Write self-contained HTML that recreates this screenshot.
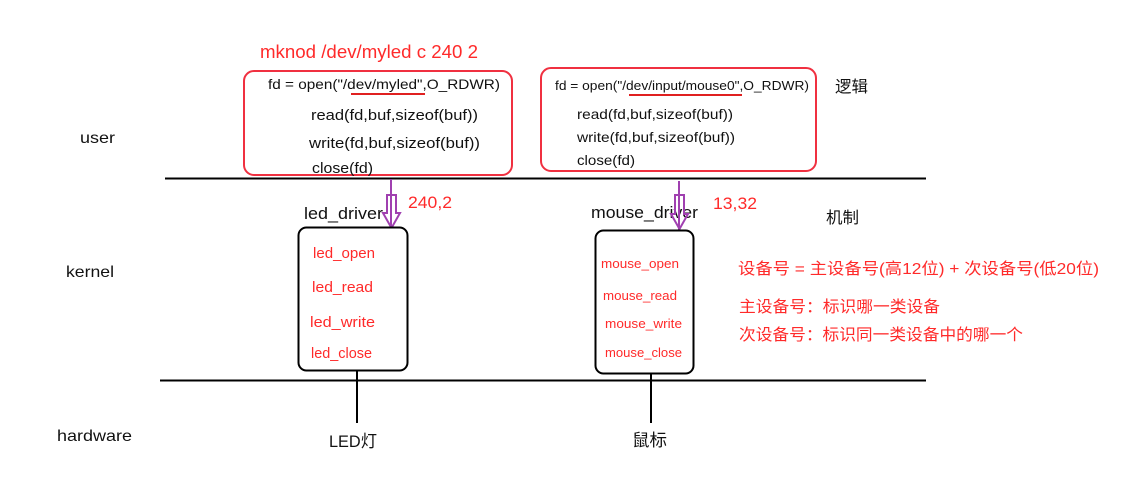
<!DOCTYPE html>
<html><head><meta charset="utf-8"><style>
html,body{margin:0;padding:0;background:#fff;}
svg{display:block;}
text{font-family:"Liberation Sans","Noto Sans CJK SC",sans-serif;}
</style></head><body>
<svg width="1143" height="487" viewBox="0 0 1143 487" xmlns="http://www.w3.org/2000/svg">
<rect width="1143" height="487" fill="#fff"/>
<line x1="165" y1="178.5" x2="926" y2="178.5" stroke="#000" stroke-width="2"/>
<line x1="160" y1="380.5" x2="926" y2="380.5" stroke="#000" stroke-width="2"/>
<text x="80" y="143" font-size="16" fill="#111" textLength="35" lengthAdjust="spacingAndGlyphs">user</text>
<text x="66" y="277" font-size="16" fill="#111" textLength="48" lengthAdjust="spacingAndGlyphs">kernel</text>
<text x="57" y="441" font-size="16" fill="#111" textLength="75" lengthAdjust="spacingAndGlyphs">hardware</text>
<text x="260" y="58" font-size="18" fill="#ff2a2a" textLength="218" lengthAdjust="spacingAndGlyphs">mknod /dev/myled c 240 2</text>
<rect x="244" y="71" width="268" height="104" rx="10" fill="none" stroke="#f03040" stroke-width="2"/>
<text x="268" y="89" font-size="14" fill="#111" textLength="232" lengthAdjust="spacingAndGlyphs">fd = open("/dev/myled",O_RDWR)</text>
<line x1="351" y1="94" x2="425" y2="94" stroke="#e02020" stroke-width="2"/>
<text x="311" y="120" font-size="14.5" fill="#111" textLength="167" lengthAdjust="spacingAndGlyphs">read(fd,buf,sizeof(buf))</text>
<text x="309" y="148" font-size="14.5" fill="#111" textLength="171" lengthAdjust="spacingAndGlyphs">write(fd,buf,sizeof(buf))</text>
<text x="312" y="173" font-size="14.5" fill="#111" textLength="61" lengthAdjust="spacingAndGlyphs">close(fd)</text>
<rect x="541" y="68" width="275" height="103" rx="10" fill="none" stroke="#f03040" stroke-width="2"/>
<text x="555" y="90" font-size="13" fill="#111" textLength="254" lengthAdjust="spacingAndGlyphs">fd = open("/dev/input/mouse0",O_RDWR)</text>
<line x1="629" y1="95" x2="742" y2="95" stroke="#e02020" stroke-width="2"/>
<text x="577" y="119" font-size="14" fill="#111" textLength="156" lengthAdjust="spacingAndGlyphs">read(fd,buf,sizeof(buf))</text>
<text x="577" y="142" font-size="14" fill="#111" textLength="158" lengthAdjust="spacingAndGlyphs">write(fd,buf,sizeof(buf))</text>
<text x="577" y="165" font-size="14" fill="#111" textLength="58" lengthAdjust="spacingAndGlyphs">close(fd)</text>
<text x="835" y="92" font-size="16" fill="#111" textLength="33" lengthAdjust="spacingAndGlyphs">逻辑</text>
<text x="826" y="223" font-size="16" fill="#111" textLength="33" lengthAdjust="spacingAndGlyphs">机制</text>
<text x="304" y="219" font-size="17" fill="#111" textLength="79" lengthAdjust="spacingAndGlyphs">led_driver</text>
<text x="591" y="218" font-size="17" fill="#111" textLength="107" lengthAdjust="spacingAndGlyphs">mouse_driver</text>
<text x="408" y="208" font-size="17" fill="#ff2a2a" textLength="44" lengthAdjust="spacingAndGlyphs">240,2</text>
<text x="713" y="209" font-size="17" fill="#ff2a2a" textLength="44" lengthAdjust="spacingAndGlyphs">13,32</text>
<g stroke="#a040b0" stroke-width="2" fill="none">
<line x1="391" y1="179" x2="391" y2="230"/>
<path d="M387,195 L396,195 L396,213 L400,213 L391.5,228 L383,213 L387,213 Z"/>
<line x1="679" y1="181" x2="679" y2="232"/>
<path d="M675,195 L684,195 L684,214 L688,214 L679.5,229 L671,214 L675,214 Z"/>
</g>
<rect x="298.5" y="227.5" width="109" height="143" rx="8" fill="#fff" stroke="#000" stroke-width="2"/>
<text x="313" y="258" font-size="15" fill="#ff2a2a" textLength="62" lengthAdjust="spacingAndGlyphs">led_open</text>
<text x="312" y="292" font-size="15" fill="#ff2a2a" textLength="61" lengthAdjust="spacingAndGlyphs">led_read</text>
<text x="310" y="327" font-size="15" fill="#ff2a2a" textLength="65" lengthAdjust="spacingAndGlyphs">led_write</text>
<text x="311" y="358" font-size="15" fill="#ff2a2a" textLength="61" lengthAdjust="spacingAndGlyphs">led_close</text>
<rect x="595.5" y="230.5" width="98" height="143" rx="8" fill="#fff" stroke="#000" stroke-width="2"/>
<text x="601" y="268" font-size="13" fill="#ff2a2a" textLength="78" lengthAdjust="spacingAndGlyphs">mouse_open</text>
<text x="603" y="300" font-size="13" fill="#ff2a2a" textLength="74" lengthAdjust="spacingAndGlyphs">mouse_read</text>
<text x="605" y="328" font-size="13" fill="#ff2a2a" textLength="77" lengthAdjust="spacingAndGlyphs">mouse_write</text>
<text x="605" y="357" font-size="13" fill="#ff2a2a" textLength="77" lengthAdjust="spacingAndGlyphs">mouse_close</text>
<line x1="357" y1="370" x2="357" y2="423" stroke="#000" stroke-width="2"/>
<line x1="651" y1="373" x2="651" y2="423" stroke="#000" stroke-width="2"/>
<text x="329" y="447" font-size="17" fill="#111" textLength="48" lengthAdjust="spacingAndGlyphs">LED灯</text>
<text x="632" y="446" font-size="17" fill="#111" textLength="35" lengthAdjust="spacingAndGlyphs">鼠标</text>
<text x="738" y="274" font-size="16" fill="#ff2a2a" textLength="361" lengthAdjust="spacingAndGlyphs">设备号 = 主设备号(高12位) + 次设备号(低20位)</text>
<text x="739" y="312" font-size="16" fill="#ff2a2a" textLength="201" lengthAdjust="spacingAndGlyphs">主设备号：标识哪一类设备</text>
<text x="739" y="340" font-size="16" fill="#ff2a2a" textLength="284" lengthAdjust="spacingAndGlyphs">次设备号：标识同一类设备中的哪一个</text>
</svg>
</body></html>
